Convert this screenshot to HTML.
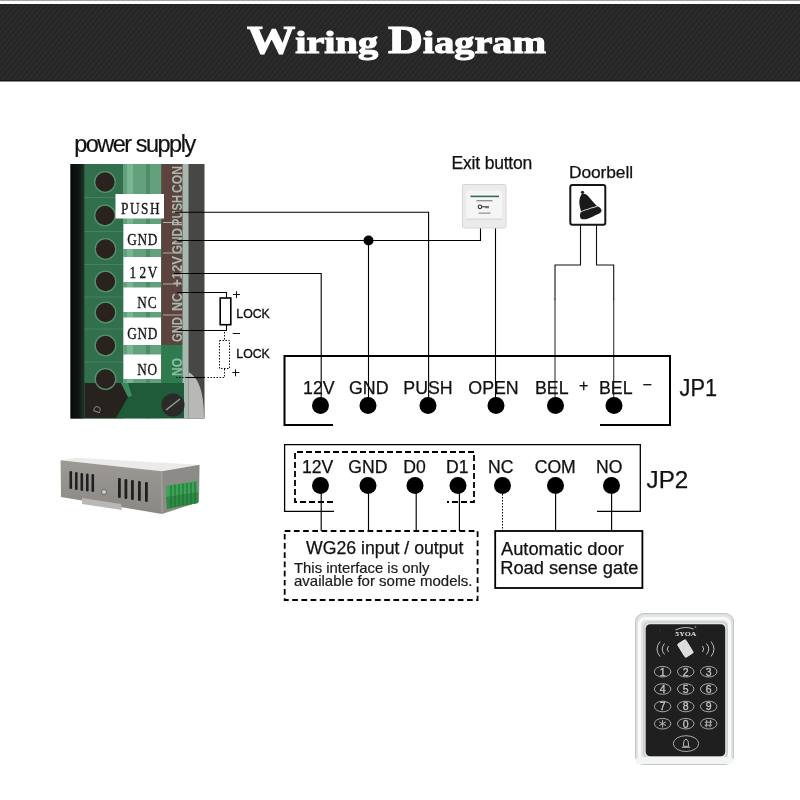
<!DOCTYPE html>
<html><head><meta charset="utf-8">
<style>
html,body{margin:0;padding:0;background:#fff;width:800px;height:800px;overflow:hidden}
svg{display:block;will-change:transform}

</style></head>
<body>
<svg width="800" height="800" viewBox="0 0 800 800" font-family="Liberation Sans, sans-serif">
<defs>
<pattern id="stripes" width="4" height="4" patternUnits="userSpaceOnUse" patternTransform="rotate(40)">
<rect width="4" height="4" fill="#252525"/>
<rect width="1.5" height="4" fill="#2d2d2d"/>
</pattern>
<linearGradient id="leftstrip" x1="0" y1="0" x2="1" y2="0">
<stop offset="0" stop-color="#080a09"/><stop offset="0.6" stop-color="#101612"/><stop offset="1" stop-color="#1e3a2a"/>
</linearGradient>
<linearGradient id="boxfront" x1="0" y1="0" x2="0" y2="1">
<stop offset="0" stop-color="#9d9a96"/><stop offset="1" stop-color="#8b8884"/>
</linearGradient>
</defs>
<!-- header -->
<rect x="0" y="0" width="800" height="1" fill="#aaa29e"/>
<rect x="0" y="4" width="800" height="77" fill="url(#stripes)"/>
<rect x="0" y="80" width="800" height="1.5" fill="#151515"/>
<text x="247" y="53" font-family="Liberation Serif" font-weight="bold" font-size="39" fill="#fff" stroke="#fff" stroke-width="1.1" textLength="299" lengthAdjust="spacingAndGlyphs">W<tspan font-size="32.5">iring </tspan>D<tspan font-size="32.5">iagram</tspan></text>

<!-- power supply label -->
<text x="74.2" y="152.3" font-size="23.5" fill="#111" stroke="#111" stroke-width="0.2" letter-spacing="-1.5">power supply</text>

<!-- terminal photo -->
<g>
<rect x="70.5" y="164" width="134" height="254.5" fill="#474745"/>
<rect x="70.5" y="164" width="14" height="254.5" fill="url(#leftstrip)"/>
<rect x="84.5" y="164" width="38.5" height="254.5" fill="#32704d"/>
<rect x="123" y="164" width="38.5" height="254.5" fill="#62a17b"/>
<rect x="127" y="164" width="6" height="254.5" fill="#78b590"/>
<rect x="146" y="164" width="4" height="254.5" fill="#4f8d68"/>
<rect x="161.5" y="164" width="21" height="181" fill="#5d433d"/>
<rect x="161.5" y="345" width="22.5" height="38" fill="#2f7a4e"/>
<rect x="182.5" y="164" width="6" height="254.5" fill="#a9b8af"/>
<path d="M188.5,372 Q204,380 204,418 L188.5,418 Z" fill="#b8b8b6"/>
<path d="M84.5,383 L184,383 L184,418 L84.5,418 Z" fill="#1f5a39"/>
<path d="M84.5,383 L121,383 L128,397 L116,418 L84.5,418 Z" fill="#26221e"/>
<path d="M121,383 L128,383 L132,396 L128,397 Z" fill="#3d8a5c"/>
<text x="88" y="412" font-size="10" fill="#8a8a84" transform="rotate(-70 95 405)">D</text>
<g stroke="#4a8a64" stroke-width="0.8" opacity="0.9">
<line x1="84.5" y1="197.5" x2="123" y2="197.5"/>
<line x1="84.5" y1="231.5" x2="123" y2="231.5"/>
<line x1="84.5" y1="264.5" x2="123" y2="264.5"/>
<line x1="84.5" y1="297" x2="123" y2="297"/>
<line x1="84.5" y1="329" x2="123" y2="329"/>
<line x1="84.5" y1="362" x2="123" y2="362"/>
</g>
<g fill="#2a221e" stroke="#55926d" stroke-width="1.3">
<circle cx="105" cy="182" r="10.3"/>
<circle cx="105" cy="215.5" r="10.3"/>
<circle cx="105.5" cy="249" r="10.3"/>
<circle cx="105.5" cy="281.5" r="10.3"/>
<circle cx="105.5" cy="312.5" r="10.3"/>
<circle cx="105.5" cy="345.5" r="10.3"/>
<circle cx="105.5" cy="379" r="10.3"/>
</g>
<circle cx="173" cy="405" r="11.5" fill="#2a2a28"/>
<path d="M166,410 L180,399" stroke="#9a9a98" stroke-width="1.5"/>
<g fill="#a9b9af" font-size="14" font-weight="bold">
<text transform="translate(181.5 193) rotate(-90)" textLength="27" lengthAdjust="spacingAndGlyphs">CON</text>
<text transform="translate(181.5 226) rotate(-90)" textLength="31" lengthAdjust="spacingAndGlyphs">PUSH</text>
<text transform="translate(181.5 254) rotate(-90)" textLength="26" lengthAdjust="spacingAndGlyphs">GND</text>
<text transform="translate(181.5 287) rotate(-90)" textLength="31" lengthAdjust="spacingAndGlyphs">+12V</text>
<text transform="translate(181.5 311) rotate(-90)" textLength="18" lengthAdjust="spacingAndGlyphs">NC</text>
<text transform="translate(181.5 342) rotate(-90)" textLength="25" lengthAdjust="spacingAndGlyphs">GND</text>
<text transform="translate(181.5 376) rotate(-90)" textLength="18" lengthAdjust="spacingAndGlyphs" fill="#8fc0a2">NO</text>
</g>
<g stroke="#a9b0a8" stroke-width="1">
<line x1="163" y1="222.5" x2="182" y2="222.5"/>
<line x1="163" y1="253" x2="182" y2="253"/>
<line x1="163" y1="284" x2="182" y2="284"/>
<line x1="163" y1="315" x2="182" y2="315"/>
</g>
<g fill="#fff">
<rect x="115.5" y="194" width="48.5" height="24.5"/>
<rect x="123.5" y="224" width="37.5" height="25"/>
<rect x="123.5" y="257" width="37.5" height="25"/>
<rect x="123.5" y="287.5" width="37.5" height="24.5"/>
<rect x="123.5" y="317.5" width="37.5" height="27.5"/>
<rect x="123.5" y="354.5" width="37.5" height="24.5"/>
</g>
<g font-family="Liberation Serif" font-size="17.5" fill="#151515" stroke="#151515" stroke-width="0.35" text-anchor="middle">
<text transform="translate(119.5 214.3) scale(0.76 1)" x="6.8 20.1 33.2 46.5" y="0">PUSH</text>
<text transform="translate(127 245) scale(0.76 1)" x="6.67 20.27 33.6" y="0">GND</text>
<text transform="translate(128 278) scale(0.76 1)" x="6.4 19.47 32.27" y="0">12V</text>
<text transform="translate(137 308) scale(0.76 1)" x="6.67 20" y="0">NC</text>
<text transform="translate(127 338.6) scale(0.76 1)" x="6.67 20.27 33.6" y="0">GND</text>
<text transform="translate(137 375.4) scale(0.76 1)" x="6.67 20" y="0">NO</text>
</g>
</g>

<!-- wires from power supply -->
<g stroke="#000" stroke-width="1.1" fill="none">
<polyline points="175,212.3 428.6,212.3 428.6,405"/>
<polyline points="176.5,240.5 480.5,240.5 480.5,228"/>
<line x1="368.5" y1="240" x2="368.5" y2="405"/>
<polyline points="174,273.5 321.2,273.5 321.2,405"/>
<polyline points="177,292.5 226.5,292.5 226.5,298"/>
<polyline points="178,330.5 226.5,330.5 226.5,324.5"/>
<line x1="495.5" y1="228" x2="495.5" y2="405"/>
</g>
<g stroke="#111" stroke-width="1.1" fill="none">
<polyline points="580.5,225 580.5,265 555,265 555,300"/>
<polyline points="596.5,225 596.5,265 613.7,265 613.7,300"/>
</g>
<g stroke="#333" stroke-width="1.1" fill="none">
<line x1="555" y1="299" x2="555" y2="405"/>
<line x1="613.7" y1="299" x2="613.7" y2="405"/>
</g>
<circle cx="368.5" cy="240.5" r="5" fill="#000"/>
<!-- lock -->
<rect x="220.2" y="298" width="10.6" height="26.7" fill="#fff" stroke="#000" stroke-width="1.6"/>
<g stroke="#111" stroke-width="1" fill="none" stroke-dasharray="1.5 1.5">
<line x1="224.5" y1="332" x2="224.5" y2="340"/>
<polyline points="219.5,340.5 229.5,340.5 229.5,368.5 219.5,368.5 219.5,340.5"/>
<polyline points="224.5,369 224.5,377.5 206,377.5"/>
<line x1="176" y1="377.5" x2="187" y2="377.5"/>
</g>
<line x1="186" y1="377.5" x2="205" y2="377.5" stroke="#000" stroke-width="1.1"/>
<g stroke="#111" stroke-width="1" fill="none">
<path d="M233,294.5 H240 M236.5,291.2 V298.1"/>
<path d="M232.7,333.5 H240"/>
<path d="M232.3,372.5 H239.4 M235.5,369.4 V376.3"/>
</g>
<g font-size="12" fill="#111" stroke="#111" stroke-width="0.35">
<text x="236.3" y="318.2" textLength="33.5" lengthAdjust="spacingAndGlyphs">LOCK</text>
<text x="236.3" y="358.2" textLength="33.5" lengthAdjust="spacingAndGlyphs">LOCK</text>
</g>

<!-- Exit button -->
<text x="451.6" y="169.3" font-size="17.5" fill="#111" stroke="#111" stroke-width="0.25" letter-spacing="-0.2">Exit button</text>
<rect x="462.5" y="184.5" width="43.5" height="43.5" rx="1.5" fill="#ebebeb" stroke="#d6d6d6" stroke-width="1"/>
<rect x="466.3" y="190.7" width="36" height="29" rx="1" fill="#f5f5f5"/>
<rect x="466.3" y="218.5" width="36" height="1.5" fill="#dadada"/>
<rect x="470.5" y="195.6" width="28.5" height="1.6" fill="#2f6a5a"/>
<g fill="#7a7a7a">
<rect x="476.5" y="200.2" width="16" height="1.1"/>
<rect x="478.5" y="212.6" width="12" height="1"/>
</g>
<circle cx="480" cy="206.8" r="1.8" fill="none" stroke="#333" stroke-width="1.1"/>
<path d="M481.8,206.8 L489,206.8 M486,206.8 L486,208.3 M488,206.8 L488,208.3" stroke="#333" stroke-width="1"/>
<!-- Doorbell -->
<text x="569" y="177.8" font-size="17.4" fill="#111" stroke="#111" stroke-width="0.25" letter-spacing="-0.1">Doorbell</text>
<rect x="570.3" y="185" width="35" height="39.7" rx="2" fill="#fff" stroke="#151515" stroke-width="2"/>
<circle cx="582.5" cy="192.3" r="1.6" fill="#222"/>
<path d="M581.75,194.1 C579.5,197 579.2,202 579.4,203.5 C579.6,206 580.4,209 581,211 C580,214 579.6,216.5 580.5,218.2 C582,219.8 585,219.4 587,218.9 C590,218 596,215 599.75,213.25 C601.5,212 602,210 601.25,209.5 C600.5,207.8 598.5,206.5 596.75,205.75 C595,204 592,200.5 590,198.25 C588.5,196.3 587,195 586.25,194.5 C585,193.6 583,193.6 581.75,194.1 Z" fill="#1a1a1a"/>
<path d="M580.8,212 C583,210.8 585,209.8 586.5,209.7 C588,209.5 589,208.6 590.5,208.2 C593,207.6 595,207 597.5,206.3" fill="none" stroke="#f0f0f0" stroke-width="0.9"/>

<!-- JP1 -->
<g stroke="#000" stroke-width="2" fill="none">
<polyline points="333,425 284.5,425 284.5,356 670,356 670,425 600,425"/>
</g>
<g fill="#000">
<circle cx="320.5" cy="405.5" r="8.5"/>
<circle cx="368" cy="405.5" r="8.5"/>
<circle cx="428" cy="405.5" r="8.5"/>
<circle cx="496" cy="405.5" r="8.5"/>
<circle cx="555.5" cy="405.5" r="8.5"/>
<circle cx="614" cy="405.5" r="8.5"/>
</g>
<g font-size="17.8" fill="#111" stroke="#111" stroke-width="0.25">
<text x="303" y="393.6">12V</text>
<text x="349" y="393.6">GND</text>
<text x="403.3" y="393.6">PUSH</text>
<text x="468.3" y="393.6">OPEN</text>
<text x="535" y="393.6">BEL</text>
<text x="579" y="391" font-size="16">+</text>
<text x="599" y="393.6">BEL</text>
<text x="642.5" y="390" font-size="16">−</text>
<text x="679.5" y="395.6" font-size="24.3" textLength="37.5" lengthAdjust="spacingAndGlyphs">JP1</text>
</g>

<!-- JP2 -->
<g stroke="#000" stroke-width="1.3" fill="none">
<polyline points="334,511.3 284.6,511.3 284.6,444.6 640.3,444.6 640.3,511.3 597,511.3"/>
</g>
<g stroke="#000" stroke-width="1.8" fill="none" stroke-dasharray="6 3">
<polyline points="333,502 295,502 295,452 474,452 474,502 447,502"/>
</g>
<g fill="#000">
<circle cx="320.5" cy="485.5" r="8.5"/>
<circle cx="368" cy="485.5" r="8.5"/>
<circle cx="415" cy="485.5" r="8.5"/>
<circle cx="458" cy="485.5" r="8.5"/>
<circle cx="502.5" cy="485.5" r="8.5"/>
<circle cx="555.5" cy="485.5" r="8.5"/>
<circle cx="611.5" cy="485.5" r="8.5"/>
</g>
<g font-size="17.6" fill="#111" stroke="#111" stroke-width="0.25">
<text x="302" y="473">12V</text>
<text x="348.3" y="473">GND</text>
<text x="403.2" y="473">D0</text>
<text x="446" y="473">D1</text>
<text x="488" y="473">NC</text>
<text x="534.7" y="473">COM</text>
<text x="596" y="473">NO</text>
<text x="646.6" y="487.6" font-size="24.2">JP2</text>
</g>
<g stroke="#000" stroke-width="1.15" fill="none">
<line x1="321.2" y1="485" x2="321.2" y2="531"/>
<line x1="368.5" y1="485" x2="368.5" y2="531"/>
<line x1="416.2" y1="485" x2="416.2" y2="531"/>
<line x1="459.4" y1="485" x2="459.4" y2="531"/>
<line x1="555.6" y1="485" x2="555.6" y2="531"/>
<line x1="611.6" y1="485" x2="611.6" y2="531"/>
</g>
<line x1="502.5" y1="485" x2="502.5" y2="531" stroke="#000" stroke-width="1" stroke-dasharray="1.5 1.5"/>

<!-- WG26 box -->
<rect x="284.7" y="531" width="192.9" height="69" fill="none" stroke="#000" stroke-width="1.8" stroke-dasharray="5.7 3.5"/>
<text x="306" y="553.6" font-size="17.7" fill="#111" stroke="#111" stroke-width="0.25">WG26 input / output</text>
<text x="294" y="573" font-size="14.3" fill="#1a1a1a" stroke="#1a1a1a" stroke-width="0.2" textLength="135.5" lengthAdjust="spacingAndGlyphs">This interface is only</text>
<text x="294" y="586.3" font-size="14.3" fill="#1a1a1a" stroke="#1a1a1a" stroke-width="0.2" textLength="178.5" lengthAdjust="spacingAndGlyphs">available for some models.</text>

<!-- Automatic door box -->
<rect x="495.2" y="531" width="147.2" height="57" fill="#fff" stroke="#000" stroke-width="1.8"/>
<text x="501" y="554.7" font-size="18.3" fill="#111" stroke="#111" stroke-width="0.25">Automatic door</text>
<text x="500.2" y="573.8" font-size="18.3" fill="#111" stroke="#111" stroke-width="0.25">Road sense gate</text>

<!-- power supply box photo -->
<g>
<polygon points="60.6,460.2 76,457.8 199.5,464.7 162,471.3" fill="#ecebea"/>
<polygon points="60.6,460.2 162,471.3 162,514 61,497" fill="url(#boxfront)"/>
<polygon points="162,471.3 199.5,464.7 199,502 162,514" fill="#8d8b87"/>
<line x1="162" y1="471.5" x2="162" y2="514" stroke="#a9a7a3" stroke-width="1"/>
<polygon points="82,498 121,504 122,510 82,504" fill="#b9b8b5"/>
<g fill="#1f1f1f">
<rect x="69.5" y="471" width="2.6" height="18" rx="1.2"/>
<rect x="75" y="472" width="2.6" height="18" rx="1.2"/>
<rect x="80.5" y="473" width="2.6" height="18" rx="1.2"/>
<rect x="86" y="473.5" width="2.6" height="18" rx="1.2"/>
<rect x="91.5" y="474" width="2.6" height="18" rx="1.2"/>
<rect x="118" y="478" width="2.8" height="20" rx="1.2"/>
<rect x="124.5" y="479" width="2.8" height="20" rx="1.2"/>
<rect x="131" y="480" width="2.8" height="20" rx="1.2"/>
<rect x="138" y="481" width="2.8" height="20" rx="1.2"/>
<rect x="145" y="482" width="2.8" height="20" rx="1.2"/>
</g>
<circle cx="104" cy="492" r="2.5" fill="#d0d0ce" stroke="#555" stroke-width="0.8"/>
<polygon points="166,486 197,481 198,503 167,509" fill="#3ba456"/>
<polygon points="166,497 198,492 198,503 167,509" fill="#2e8a45"/>
<g stroke="#1e6a33" stroke-width="1">
<line x1="171" y1="485" x2="171" y2="508"/>
<line x1="175" y1="484.5" x2="175" y2="507"/>
<line x1="179" y1="484" x2="179" y2="506"/>
<line x1="183" y1="483.5" x2="183" y2="505.5"/>
<line x1="187" y1="483" x2="187" y2="505"/>
<line x1="191" y1="482.5" x2="191" y2="504"/>
<line x1="195" y1="482" x2="195" y2="503.5"/>
</g>
</g>

<!-- keypad -->
<g>
<rect x="635" y="613" width="99" height="152" rx="9" fill="#e2e4e5"/>
<rect x="635.6" y="613.6" width="97.8" height="150.8" rx="8.5" fill="none" stroke="#c6c8ca" stroke-width="1.2"/>
<rect x="639.5" y="618.5" width="90" height="143" rx="6" fill="none" stroke="#f8f9f9" stroke-width="3"/>
<rect x="643.8" y="622" width="83.4" height="136.2" rx="5.5" fill="none" stroke="#c4c6c8" stroke-width="1.2"/>
<rect x="636" y="757" width="97" height="7" rx="3" fill="#f3f4f4"/>
<rect x="645.7" y="624.2" width="79.5" height="132" rx="4.5" fill="#1f1f1f"/>
<circle cx="660" cy="630.5" r="1" fill="#333"/>
<text x="685.8" y="635.6" font-family="Liberation Serif" font-weight="bold" font-size="7" fill="#e0e0e0" text-anchor="middle" textLength="21" lengthAdjust="spacingAndGlyphs">5YOA</text>
<path d="M675.5,630 Q685,625.5 693.5,629" stroke="#cfcfcf" stroke-width="0.9" fill="none"/><circle cx="695.5" cy="627" r="0.8" fill="#aaa"/>
<g stroke="#bdbdbd" stroke-width="1" fill="none">
<path d="M660,641.5 Q654,649 660,656.5"/>
<path d="M664.5,643.5 Q660,649 664.5,654.5"/>
<path d="M668.5,646 Q666,649 668.5,652"/>
<path d="M711,641.5 Q717,649 711,656.5"/>
<path d="M706.5,643.5 Q711,649 706.5,654.5"/>
<path d="M702.5,646 Q705,649 702.5,652"/>
</g>
<rect x="680.65" y="640.75" width="9.5" height="15.5" rx="1.2" transform="rotate(-31.5 685.4 648.5)" fill="#dcdcdc" stroke="#f0f0f0" stroke-width="0.8"/>
<g stroke="#b5b5b5" stroke-width="0.9" fill="none">
<ellipse cx="662.6" cy="671.7" rx="8.25" ry="5.3"/>
<ellipse cx="685.7" cy="671.7" rx="8.25" ry="5.3"/>
<ellipse cx="708.7" cy="671.7" rx="8.25" ry="5.3"/>
<ellipse cx="662.6" cy="689" rx="8.25" ry="5.3"/>
<ellipse cx="685.7" cy="689" rx="8.25" ry="5.3"/>
<ellipse cx="708.7" cy="689" rx="8.25" ry="5.3"/>
<ellipse cx="662.6" cy="706.5" rx="8.25" ry="5.3"/>
<ellipse cx="685.7" cy="706.5" rx="8.25" ry="5.3"/>
<ellipse cx="708.7" cy="706.5" rx="8.25" ry="5.3"/>
<ellipse cx="662.6" cy="723.7" rx="8.25" ry="5.3"/>
<ellipse cx="685.7" cy="723.7" rx="8.25" ry="5.3"/>
<ellipse cx="708.7" cy="723.7" rx="8.25" ry="5.3"/>
<ellipse cx="686" cy="743.6" rx="12.7" ry="7.9"/>
</g>
<g font-size="10.5" fill="#c4c4c4" stroke="#c4c4c4" stroke-width="0.3" text-anchor="middle">
<text x="662.6" y="675.5">1</text><text x="685.7" y="675.5">2</text><text x="708.7" y="675.5">3</text>
<text x="662.6" y="692.8">4</text><text x="685.7" y="692.8">5</text><text x="708.7" y="692.8">6</text>
<text x="662.6" y="710.3">7</text><text x="685.7" y="710.3">8</text><text x="708.7" y="710.3">9</text>
<text x="685.7" y="727.5">0</text>
</g>
<path d="M683.3,746.3 L683.9,741.2 Q686,737.3 688.1,741.2 L688.7,746.3 Z M681.8,747.3 L690.2,747.3" stroke="#c8c8c8" stroke-width="0.9" fill="none"/>
<g stroke="#c4c4c4" stroke-width="0.9">
<path d="M662.6,719.8 V727.6 M659.2,721.8 L666,725.6 M659.2,725.6 L666,721.8"/>
<path d="M706.8,720 L706.2,727.4 M710.6,720 L710,727.4 M704.8,722.2 H712.2 M704.6,725.2 H712"/>
</g>
</g>
</svg>
</body></html>
